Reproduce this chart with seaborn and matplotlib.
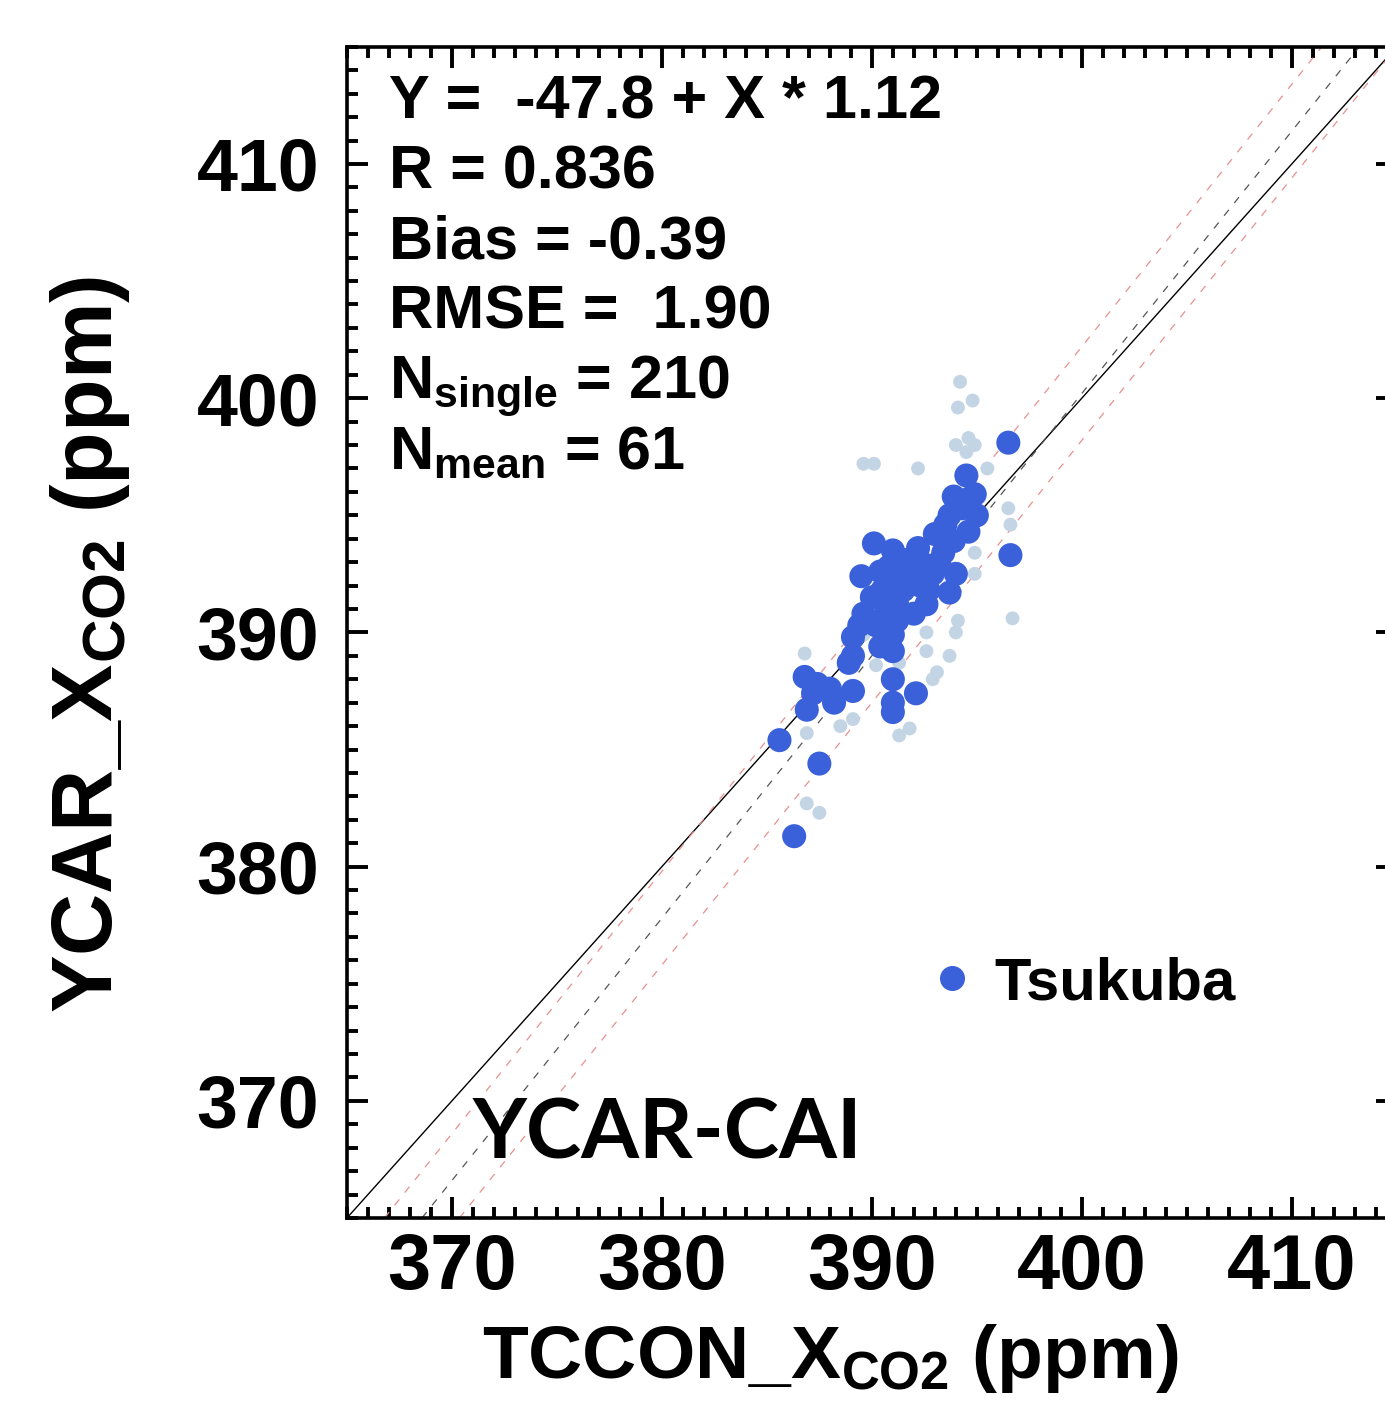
import numpy as np
import pandas as pd
import matplotlib
matplotlib.use('Agg')
import matplotlib.pyplot as plt
import seaborn as sns
from matplotlib.lines import Line2D
from matplotlib.ticker import MultipleLocator

# monthly-mean (dark) points, TCCON vs YCAR
mean_x = [396.5, 396.6, 394.5, 393.9, 394.6, 393.7, 394.6, 393.9, 393.4, 394.0,
          393.7, 392.9, 392.2, 392.5, 392.7, 392.6, 391.5, 391.0, 390.1, 390.4,
          389.5, 391.0, 390.5, 391.5, 391.2, 389.6, 390.7, 391.2, 390.2, 389.4,
          391.0, 389.1, 390.4, 391.0, 389.1, 388.9, 386.8, 387.4, 389.1, 388.2,
          387.2, 386.9, 391.0, 392.1, 391.0, 391.0, 385.6, 387.5, 386.3, 394.3,
          393.0, 395.0, 392.0, 390.0, 393.2, 394.9, 392.3, 390.8, 388.0, 391.8, 393.5]
mean_y = [398.1, 393.3, 396.7, 395.8, 395.7, 395.0, 394.3, 393.9, 393.4, 392.5,
          391.7, 392.5, 393.6, 392.9, 391.8, 391.2, 393.1, 393.5, 393.8, 392.6,
          392.4, 392.2, 391.8, 391.8, 391.2, 390.8, 390.9, 390.5, 390.3, 390.3,
          389.9, 389.8, 389.4, 389.2, 389.0, 388.7, 388.1, 387.8, 387.5, 387.0,
          387.4, 386.7, 388.0, 387.4, 387.0, 386.6, 385.4, 384.4, 381.3, 395.3,
          394.2, 395.0, 390.8, 391.5, 393.0, 395.9, 392.0, 392.8, 387.6, 392.6, 394.6]

# single soundings (light) points
single_x = [394.2, 394.8, 394.1, 389.6, 390.1, 392.2, 394.0, 394.6, 394.9, 394.5,
            396.5, 394.9, 394.9, 396.7, 394.1, 394.0, 392.6, 392.6, 393.7, 393.1,
            391.3, 390.2, 389.1, 391.3, 386.9, 386.8, 386.9, 387.5, 392.1, 390.8,
            389.6, 393.5, 395.5, 388.5, 392.9, 391.8, 396.6]
single_y = [400.7, 399.9, 399.6, 397.2, 397.2, 397.0, 398.0, 398.3, 398.0, 397.7,
            395.3, 393.4, 392.5, 390.6, 390.5, 390.0, 390.0, 389.2, 389.0, 388.3,
            388.7, 388.6, 386.3, 385.6, 385.7, 389.1, 382.7, 382.3, 392.4, 390.1,
            389.9, 391.6, 397.0, 386.0, 388.0, 385.9, 394.6]

ticks = [370, 380, 390, 400, 410]
site = 'Tsukuba'
intercept, slope = -47.8, 1.12
r_val, bias, rmse = 0.836, -0.39, 1.90
n_single, n_mean = 210, 61
band = 2.0  # ppm envelope around the fit

sns.set_style('ticks')
plt.rcParams['font.family'] = ['Liberation Sans', 'DejaVu Sans']
plt.rcParams['font.weight'] = 'bold'
plt.rcParams['mathtext.default'] = 'regular'
for k in ['text.color', 'axes.labelcolor', 'xtick.color', 'ytick.color', 'axes.edgecolor']:
    plt.rcParams[k] = 'black'

fig = plt.figure(figsize=(13.85, 14.11), dpi=100)
ax = fig.add_axes([0.2505, 0.1368, 0.758, 0.830])

# 1:1, fit and envelope
ax.axline((370, 370), slope=1, color='black', lw=1.0, zorder=1)
ax.axline((370, intercept + slope * 370), slope=slope, color='#555555', lw=0.9,
          ls=(0, (6, 7)), zorder=1)
for off in (band, -band):
    ax.axline((370, intercept + slope * 370 + off), slope=slope, color='#e89090',
              lw=0.9, ls=(0, (6, 7)), zorder=1)

df_single = pd.DataFrame({'x': single_x, 'y': single_y})
df_mean = pd.DataFrame({'x': mean_x, 'y': mean_y, 'site': site})
sns.scatterplot(data=df_single, x='x', y='y', color='#c3d5e4', s=100,
                edgecolor='none', ax=ax, legend=False, zorder=2)
sns.scatterplot(data=df_mean, x='x', y='y', color='#3a60da', s=300,
                edgecolor='none', ax=ax, legend=False, zorder=3)

ax.set_xlim(365, 415)
ax.set_ylim(365, 415)
ax.set_xticks(ticks)
ax.set_yticks(ticks)
ax.xaxis.set_minor_locator(MultipleLocator(1))
ax.yaxis.set_minor_locator(MultipleLocator(1))
ax.tick_params(which='both', direction='in', top=True, right=True)
ax.tick_params(which='major', length=15, width=2.8)
ax.tick_params(which='minor', length=8, width=2.8)
ax.tick_params(axis='x', labelsize=56, pad=10)
ax.tick_params(axis='y', labelsize=53, pad=20)
for sp in ax.spines.values():
    sp.set_linewidth(2.6)

ax.set_xlabel('TCCON_X$_{\\mathregular{CO2}}$ (ppm)', fontsize=54, fontweight='bold')
ax.set_ylabel('YCAR_X$_{\\mathregular{CO2}}$ (ppm)', fontsize=62, fontweight='bold')
ax.xaxis.set_label_coords(0.46, -0.089)
ax.yaxis.set_label_coords(-0.205, 0.49)

stats = [f'Y =  {intercept} + X * {slope}',
         f'R = {r_val}',
         f'Bias = {bias}',
         f'RMSE =  {rmse:.2f}',
         'N$_{\\mathregular{single}}$ = ' + str(n_single),
         'N$_{\\mathregular{mean}}$ = ' + str(n_mean)]
for i, s in enumerate(stats):
    ax.text(0.04, 0.939 - i * 0.0598, s, transform=ax.transAxes, fontsize=44,
            fontweight='bold', va='baseline', ha='left')

handle = Line2D([], [], marker='o', ls='none', color='#3a60da', markersize=17)
ax.legend([handle], [site], loc='center', bbox_to_anchor=(0.70, 0.20), frameon=False,
          prop={'size': 43, 'weight': 'bold'}, handletextpad=0.3, handlelength=0.8)

ax.text(0.12, 0.051, 'YCAR-CAI', transform=ax.transAxes, fontsize=60,
        fontweight='bold', family=['Lato', 'DejaVu Sans'], va='baseline', ha='left')

fig.savefig('out.png', dpi=100)
